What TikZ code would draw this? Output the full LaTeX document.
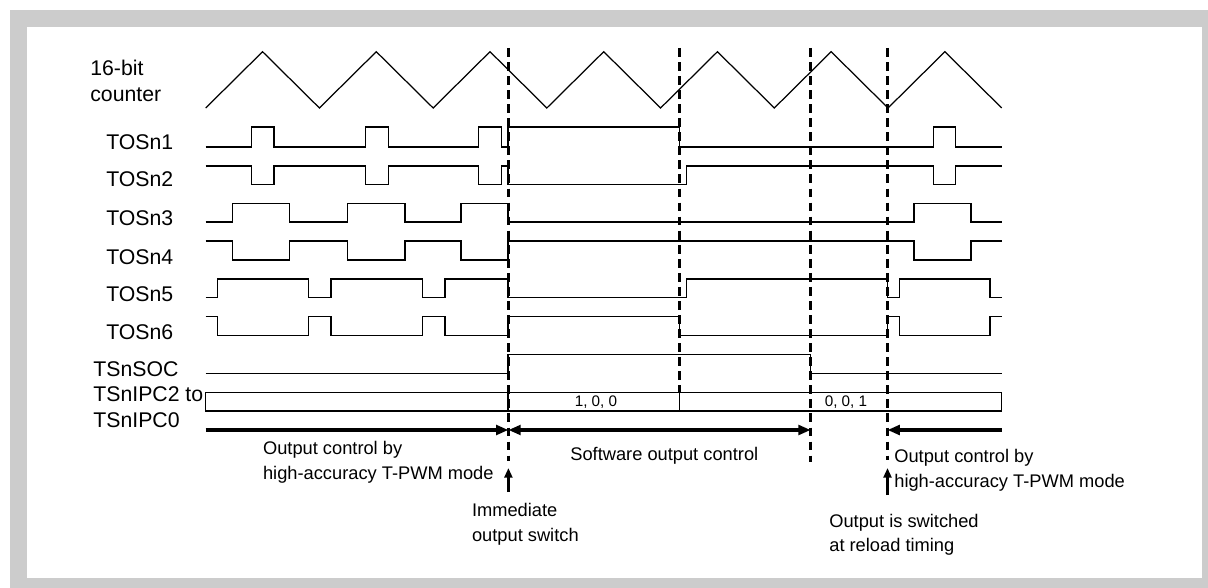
\documentclass[tikz,border=0pt]{standalone}
\usepackage{fontspec}
\setmainfont{Liberation Sans}
\usetikzlibrary{arrows.meta}
\definecolor{ramec}{gray}{0.8}
\tikzset{
  pila/.style={line width=0.7pt},
  signal/.style={line width=0.9pt},
  hranice/.style={line width=1.7pt,dash pattern=on 5pt off 3pt},
  okno/.style={line width=0.7pt},
  sip/.style={-{Triangle[length=7pt,width=5.5pt]},line width=2pt},
  sipA/.style={{Triangle[length=7pt,width=5.5pt]}-{Triangle[length=7pt,width=5.5pt]},line width=2pt},
  sipH/.style={-{Triangle[length=5.5pt,width=4.5pt]},line width=1.7pt},
  popis/.style={anchor=west,inner sep=0pt,align=left,font=\fontsize{12.1}{15}\selectfont},
  pozn/.style={anchor=west,inner sep=0pt,align=left,font=\fontsize{10.4}{14}\selectfont},
  hodnota/.style={inner sep=0pt,font=\fontsize{8.7}{10}\selectfont},
}

\begin{document}
\begin{tikzpicture}[x=0.02cm,y=-0.02cm]
\useasboundingbox (0,0) rectangle (1208,588);
\fill[ramec] (10,10) rectangle (1208,588);
\fill[white] (27,27) rectangle (1201.7,578.3);

% popisky vlevo
\node[popis] (lcit) at (90,81) {16-bit\\counter};
\node[popis] (l1) at (106,141.7) {TOSn1};
\node[popis] (l2) at (106,179.3) {TOSn2};
\node[popis] (l3) at (106,217.7) {TOSn3};
\node[popis] (l4) at (106,256.7) {TOSn4};
\node[popis] (l5) at (106,294.3) {TOSn5};
\node[popis] (l6) at (106,331.7) {TOSn6};
\node[popis] (lsoc) at (93,369) {TSnSOC};
\node[popis] (lipc) at (93,407) {TSnIPC2 to\\TSnIPC0};

% citac
\draw[pila] (205.7,108) \foreach \k in {1,...,7} { -- ++(56.86,-56.3) -- ++(56.86,56.3) };

% vystupy
\draw[signal] (205.7,147) -| (251.3,127) -| (274,147) -| (365.3,127) -| (388.7,147)
  -| (478.7,127) -| (501.7,147) -| (508,127) -| (679.3,147) -| (933.3,127) -| (955.7,147) -- (1001.7,147);
\draw[signal] (205.7,166) -| (251.3,184.5) -| (274,166) -| (365.3,184.5) -| (388.7,166)
  -| (478.7,184.5) -| (501.7,166) -| (508,184.5) -| (686.7,166) -| (933.3,184.5) -| (955.7,166) -- (1001.7,166);
\draw[signal] (205.7,222) -| (232.3,203.5) -| (289.3,222) -| (347.7,203.5) -| (405,222)
  -| (461,203.5) -| (508,222) -| (914,203.5) -| (971,222) -- (1001.7,222);
\draw[signal] (205.7,241) -| (232.3,260) -| (289.3,241) -| (347.7,260) -| (405,241)
  -| (461,260) -| (508,241) -| (914,260) -| (971,241) -- (1001.7,241);
\draw[signal] (205.7,297.7) -| (217.3,279) -| (308.3,297.7) -| (331,279) -| (422.3,297.7)
  -| (445,279) -| (508,297.7) -| (686.7,279) -| (887.7,297.7) -| (899.3,279) -| (990,297.7) -- (1001.7,297.7);
\draw[signal] (205.7,316.7) -| (217.3,335.7) -| (308.3,316.7) -| (331,335.7) -| (422.3,316.7)
  -| (445,335.7) -| (508,316.7) -| (679.3,335.7) -| (887.7,316.7) -| (899.3,335.7) -| (990,316.7) -- (1001.7,316.7);
\draw[signal] (205.7,373.3) -| (508,354.3) -| (810.7,373.3) -- (1001.7,373.3);

% TSnIPC
\draw[okno] (205.7,392.3) rectangle (1001.7,411);
\draw[okno] (508,392.3) -- (508,411);
\draw[okno] (679.3,392.3) -- (679.3,411);
\node[hodnota] (v1) at (596,401.7) {1, 0, 0};
\node[hodnota] (v2) at (846,401.7) {0, 0, 1};

% hranice
\draw[hranice] (508.4,48) -- (508.4,461);
\draw[hranice] (679.3,48) -- (679.3,392);
\draw[hranice] (810.7,48) -- (810.7,462);
\draw[hranice] (887.5,48) -- (887.5,460);

% sipky
\coordinate (s0) at (205.7,430);
\coordinate (sA) at (508.4,430);
\coordinate (sC) at (810.7,430);
\coordinate (sD) at (887.5,430);
\coordinate (sE) at (1001.7,430);
\draw[sip] (s0) -- (sA);
\draw[sipA] (sA) -- (sC);
\draw[sip] (sE) -- (sD);

\coordinate (hA1) at (508.4,492);
\coordinate (hA2) at (508.4,468);
\coordinate (hD1) at (887.5,495);
\coordinate (hD2) at (887.5,468);
\draw[sipH] (hA1) -- (hA2);
\draw[sipH] (hD1) -- (hD2);

\node[pozn] (t1) at (262.7,462) {Output control by\\high-accuracy T-PWM mode};
\node[pozn] (t2) at (570,456) {Software output control};
\node[pozn] (t3) at (894,470.5) {Output control by\\high-accuracy T-PWM mode};
\node[pozn] (t4) at (471.7,524.5) {Immediate\\output switch};
\node[pozn] (t5) at (829,534.7) {Output is switched\\at reload timing};
\end{tikzpicture}
\end{document}
